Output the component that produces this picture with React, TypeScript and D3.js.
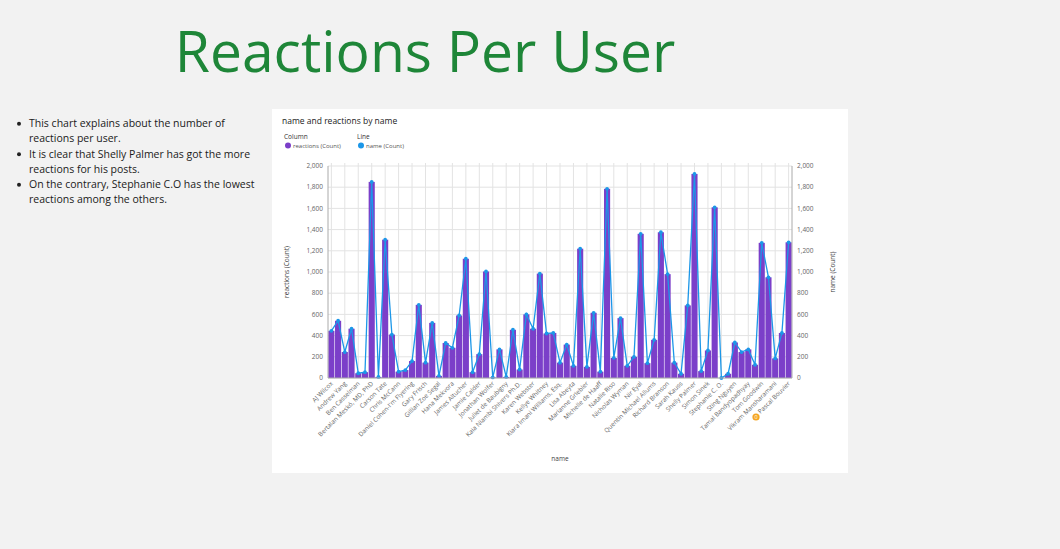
import React from "react";
import * as d3 from "d3";

// one bar per user; only every other name is printed on the axis
const reactions = [
  445, 540, 245, 465, 45, 55, 1850, 10, 1305, 410, 60, 75, 160, 690, 145, 520, 20,
  330, 285, 590, 1125, 55, 225, 1005, 5, 270, 10, 455, 80, 600, 465, 985, 420, 425,
  145, 315, 115, 1220, 105, 615, 60, 1785, 190, 565, 115, 200, 1360, 140, 360, 1375,
  980, 145, 40, 685, 1925, 65, 260, 1610, 0, 40, 335, 245, 270, 125, 1275, 950, 185,
  425, 1280,
];

const shownNames = [
  "AJ Wilcox", "Andrew Yang", "Ben Casselman", "Bertalan Meskó, MD, PhD", "Carson Tate",
  "Chris McCann", "Daniel Cohen-I'm Flyering", "Gary Frisch", "Gillian Zoe Segal",
  "Hana Mekvora", "James Altucher", "Jamie Calder", "Jonathan Wolfer", "Juliet de Baubigny",
  "Kaia Niambi Shivers Ph.D.", "Karen Webster", "Kellye Whitney", "Kiara Imani Williams, Esq.",
  "Lisa Abeyta", "Marianne Griebler", "Michelle de Haaff", "Natalie Riso", "Nicholas Wyman",
  "Nir Eyal", "Quentin Michael Allums", "Richard Branson", "Sarah Kauss", "Shelly Palmer",
  "Simon Sinek", "Stephanie C. O.", "Sting Nguyen", "Tamal Bandyopadhyay", "Tom Goodwin",
  "Vikram Mansharamani", "Pascal Bouvier",
];

const yTicks = [0, 200, 400, 600, 800, 1000, 1200, 1400, 1600, 1800, 2000];

const bullets = [
  ["This chart explains about the number of", "reactions per user."],
  ["It is clear that Shelly Palmer has got the more", "reactions for his posts."],
  ["On the contrary, Stephanie C.O has the lowest", "reactions among the others."],
];

const BAR = "#7b3fc9";
const LINE = "#1c97e8";
const FONT = "'Open Sans', 'Noto Sans', sans-serif";

export default function App() {
  const left = 328, right = 792, top = 166, bottom = 378;
  const x = d3.scaleBand<number>().domain(d3.range(reactions.length)).range([left, right]).padding(0);
  const y = d3.scaleLinear().domain([0, 2000]).range([bottom, top]);
  const cx = (i: number) => (x(i) ?? 0) + x.bandwidth() / 2;
  const line = d3.line<number>().x((_, i) => cx(i)).y(d => y(d));
  const fmt = d3.format(",");
  const tickIdx = shownNames.map((_, k) => k * 2);

  return (
    <div style={{ position: "fixed", left: 0, top: 0, width: 1060, height: 549, background: "#f2f2f2" }}>
      <svg width={1060} height={549} style={{ display: "block", fontFamily: FONT }}>
        <text x={425} y={72} textAnchor="middle" fontSize={57} fill="#1e8638">
          Reactions Per User
        </text>

        {bullets.map((b, k) => (
          <g key={k}>
            <circle cx={19} cy={127 + k * 30.5 - 3.3} r={2} fill="#222" />
            {b.map((t, j) => (
              <text key={j} x={29} y={127 + k * 30.5 + j * 15.2} fontSize={10.5} fill="#1a1a1a">
                {t}
              </text>
            ))}
          </g>
        ))}

        <rect x={272} y={109} width={576} height={364} fill="#fff" />
        <text x={282} y={124} fontSize={8.5} fill="#222">name and reactions by name</text>
        <text x={284} y={139} fontSize={6.5} fill="#333">Column</text>
        <circle cx={288} cy={145.5} r={3} fill={BAR} />
        <text x={293} y={148} fontSize={6} fill="#555">reactions (Count)</text>
        <text x={357} y={139} fontSize={6.5} fill="#333">Line</text>
        <circle cx={361} cy={145.5} r={3} fill={LINE} />
        <text x={366} y={148} fontSize={6} fill="#555">name (Count)</text>

        {yTicks.map(t => (
          <g key={t}>
            <line x1={left} x2={right} y1={y(t)} y2={y(t)} stroke="#e3e3e3" />
            <text x={323} y={y(t) + 2.2} fontSize={6.5} fill="#666" textAnchor="end">{fmt(t)}</text>
            <text x={797} y={y(t) + 2.2} fontSize={6.5} fill="#666">{fmt(t)}</text>
          </g>
        ))}
        {tickIdx.map(i => (
          <line key={i} x1={cx(i)} x2={cx(i)} y1={top - 3} y2={bottom} stroke="#e3e3e3" />
        ))}

        {reactions.map((v, i) => (
          <rect key={i} x={(x(i) ?? 0) + 0.3} y={y(v)} width={x.bandwidth() - 0.6}
            height={bottom - y(v)} fill={BAR} />
        ))}
        <path d={line(reactions) ?? ""} fill="none" stroke={LINE} strokeWidth={1.3} />
        {reactions.map((v, i) => (
          <circle key={i} cx={cx(i)} cy={y(v)} r={1.9} fill={LINE} />
        ))}

        <line x1={left} x2={left} y1={top} y2={bottom} stroke="#aaa" />
        <line x1={right} x2={right} y1={top} y2={bottom} stroke="#aaa" />
        <line x1={left} x2={right} y1={bottom} y2={bottom} stroke="#aaa" />

        {tickIdx.map((i, k) => (
          <text key={i} transform={`translate(${cx(i) + 2},${bottom + 6}) rotate(-45)`}
            fontSize={6.3} fill="#666" textAnchor="end">
            {shownNames[k]}
          </text>
        ))}

        <text transform={`translate(289,272) rotate(-90)`} fontSize={6.5} fill="#444" textAnchor="middle">
          reactions (Count)
        </text>
        <text transform={`translate(835,272) rotate(-90)`} fontSize={6.5} fill="#444" textAnchor="middle">
          name (Count)
        </text>
        <text x={560} y={461} fontSize={6.5} fill="#444" textAnchor="middle">name</text>

        <circle cx={756} cy={417} r={3.6} fill="#f5a623" />
        <text x={756} y={419.2} fontSize={5.5} fill="#fff" textAnchor="middle">0</text>
      </svg>
    </div>
  );
}
